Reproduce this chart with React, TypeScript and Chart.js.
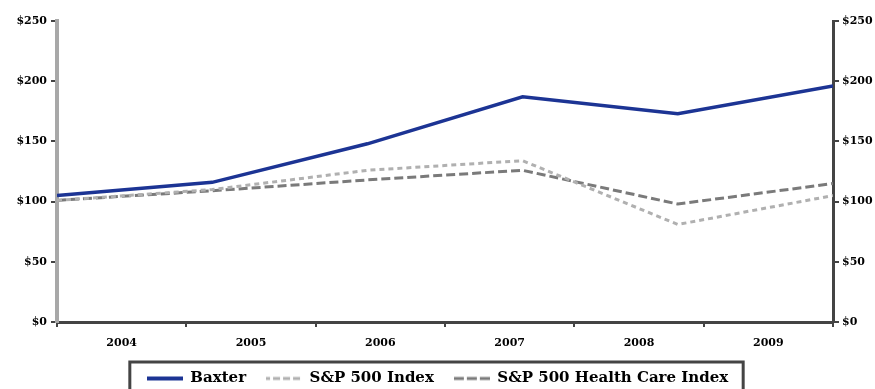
import React, { useEffect, useRef } from "react";
import { Chart, registerables } from "chart.js";

Chart.register(...registerables);

const years = ["2004", "2005", "2006", "2007", "2008", "2009"];
const baxter = [105, 116, 148, 187, 173, 196];
const sp500 = [101, 110, 126, 134, 81, 105];
const spHealth = [101, 109, 118, 126, 98, 115];
const yTicks = [0, 50, 100, 150, 200, 250];
const seriesNames = ["Baxter", "S&P 500 Index", "S&P 500 Health Care Index"];

const FONT = "'DejaVu Serif', 'Liberation Serif', serif";
const BLUE = "#1c3494";
const LIGHT = "#b0b0b0";
const DARK = "#7a7a7a";

function legendSymbol(color: string, dash: number[], width: number) {
  const c = document.createElement("canvas");
  c.width = 36;
  c.height = 6;
  const ctx = c.getContext("2d")!;
  ctx.strokeStyle = color;
  ctx.lineWidth = width;
  ctx.setLineDash(dash);
  ctx.beginPath();
  ctx.moveTo(0, 3);
  ctx.lineTo(36, 3);
  ctx.stroke();
  return c;
}

const legendBorder = {
  id: "legendBorder",
  afterDraw(chart: any) {
    const lg = chart.legend;
    if (!lg || !lg.legendHitBoxes || !lg.legendHitBoxes.length) return;
    const boxes = lg.legendHitBoxes;
    let l = Infinity, r = -Infinity, t = Infinity;
    for (const b of boxes) {
      l = Math.min(l, b.left);
      r = Math.max(r, b.left + b.width);
      t = Math.min(t, b.top);
    }
    const ctx = chart.ctx;
    ctx.save();
    ctx.strokeStyle = "#444";
    ctx.lineWidth = 3;
    ctx.strokeRect(l - 17, t - 9, r - l + 32, 60);
    ctx.restore();
  },
};

export default function App() {
  const ref = useRef<HTMLCanvasElement | null>(null);
  useEffect(() => {
    document.body.style.margin = "0";
    if (!ref.current) return;
    const xs = (arr: number[]) => arr.map((v, i) => ({ x: i, y: v }));
    const symbols = [
      legendSymbol(BLUE, [], 4),
      legendSymbol(LIGHT, [4, 3, 7, 3, 7, 3, 7, 3], 3),
      legendSymbol(DARK, [10, 3], 3),
    ];
    const chart = new Chart(ref.current, {
      type: "line",
      data: {
        labels: years,
        datasets: [
          {
            label: seriesNames[0],
            data: xs(baxter) as any,
            xAxisID: "xd",
            yAxisID: "y",
            borderColor: BLUE,
            backgroundColor: BLUE,
            borderWidth: 3.5,
            pointRadius: 0,
            tension: 0,
          },
          {
            label: seriesNames[1],
            data: xs(sp500) as any,
            xAxisID: "xd",
            yAxisID: "y",
            borderColor: LIGHT,
            backgroundColor: LIGHT,
            borderWidth: 3,
            borderDash: [5, 4],
            pointRadius: 0,
            tension: 0,
          },
          {
            label: seriesNames[2],
            data: xs(spHealth) as any,
            xAxisID: "xd",
            yAxisID: "y",
            borderColor: DARK,
            backgroundColor: DARK,
            borderWidth: 3,
            borderDash: [9, 4],
            pointRadius: 0,
            tension: 0,
          },
        ],
      },
      options: {
        animation: false,
        responsive: false,
        maintainAspectRatio: false,
        layout: { padding: { top: 21, left: 0, right: 0, bottom: -7 } },
        plugins: {
          tooltip: { enabled: false },
          legend: {
            position: "bottom",
            labels: {
              usePointStyle: true,
              pointStyleWidth: 36,
              padding: 20,
              color: "#000",
              font: { family: FONT, size: 15, weight: "bold" },
              generateLabels: (chart: any) =>
                chart.data.datasets.map((ds: any, i: number) => ({
                  text: ds.label,
                  fillStyle: ds.borderColor,
                  strokeStyle: ds.borderColor,
                  lineWidth: 0,
                  pointStyle: symbols[i],
                  hidden: false,
                  datasetIndex: i,
                  fontColor: "#000",
                })),
            },
          },
        },
        scales: {
          x: {
            type: "category",
            labels: years,
            offset: true,
            position: "bottom",
            grid: {
              offset: true,
              drawOnChartArea: false,
              drawTicks: true,
              tickLength: 5,
              color: "#444",
              lineWidth: 2,
            },
            border: { color: "#444", width: 3 },
            ticks: {
              color: "#000",
              padding: 10,
              maxRotation: 0,
              font: { family: FONT, size: 11, weight: "bold" },
            },
            afterFit(scale: any) {
              const lh = scale.chart.legend ? scale.chart.legend.height : 0;
              scale.height = 396 - 322 - lh;
            },
          },
          xd: {
            type: "linear",
            min: 0,
            max: 5,
            display: false,
          },
          y: {
            position: "left",
            min: 0,
            max: 250,
            afterBuildTicks(scale: any) {
              scale.ticks = yTicks.map((v) => ({ value: v }));
            },
            grid: {
              drawOnChartArea: false,
              drawTicks: true,
              tickLength: 6,
              color: "#444",
              lineWidth: 2,
            },
            border: { color: "#a8a8a8", width: 4 },
            ticks: {
              color: "#000",
              padding: 4,
              font: { family: FONT, size: 11, weight: "bold" },
              callback: (v: any) => "$" + v,
            },
            afterFit(scale: any) {
              scale.width = 57;
            },
          },
          y2: {
            position: "right",
            min: 0,
            max: 250,
            afterBuildTicks(scale: any) {
              scale.ticks = yTicks.map((v) => ({ value: v }));
            },
            grid: {
              drawOnChartArea: false,
              drawTicks: true,
              tickLength: 6,
              color: "#444",
              lineWidth: 2,
            },
            border: { color: "#444", width: 3 },
            ticks: {
              color: "#000",
              padding: 3,
              font: { family: FONT, size: 11, weight: "bold" },
              callback: (v: any) => "$" + v,
            },
            afterFit(scale: any) {
              scale.width = 42;
            },
          },
        },
      } as any,
      plugins: [legendBorder],
    });
    return () => chart.destroy();
  }, []);
  return (
    <div style={{ width: 875, height: 389 }}>
      <canvas ref={ref} width={875} height={389} style={{ width: 875, height: 389 }} />
    </div>
  );
}
